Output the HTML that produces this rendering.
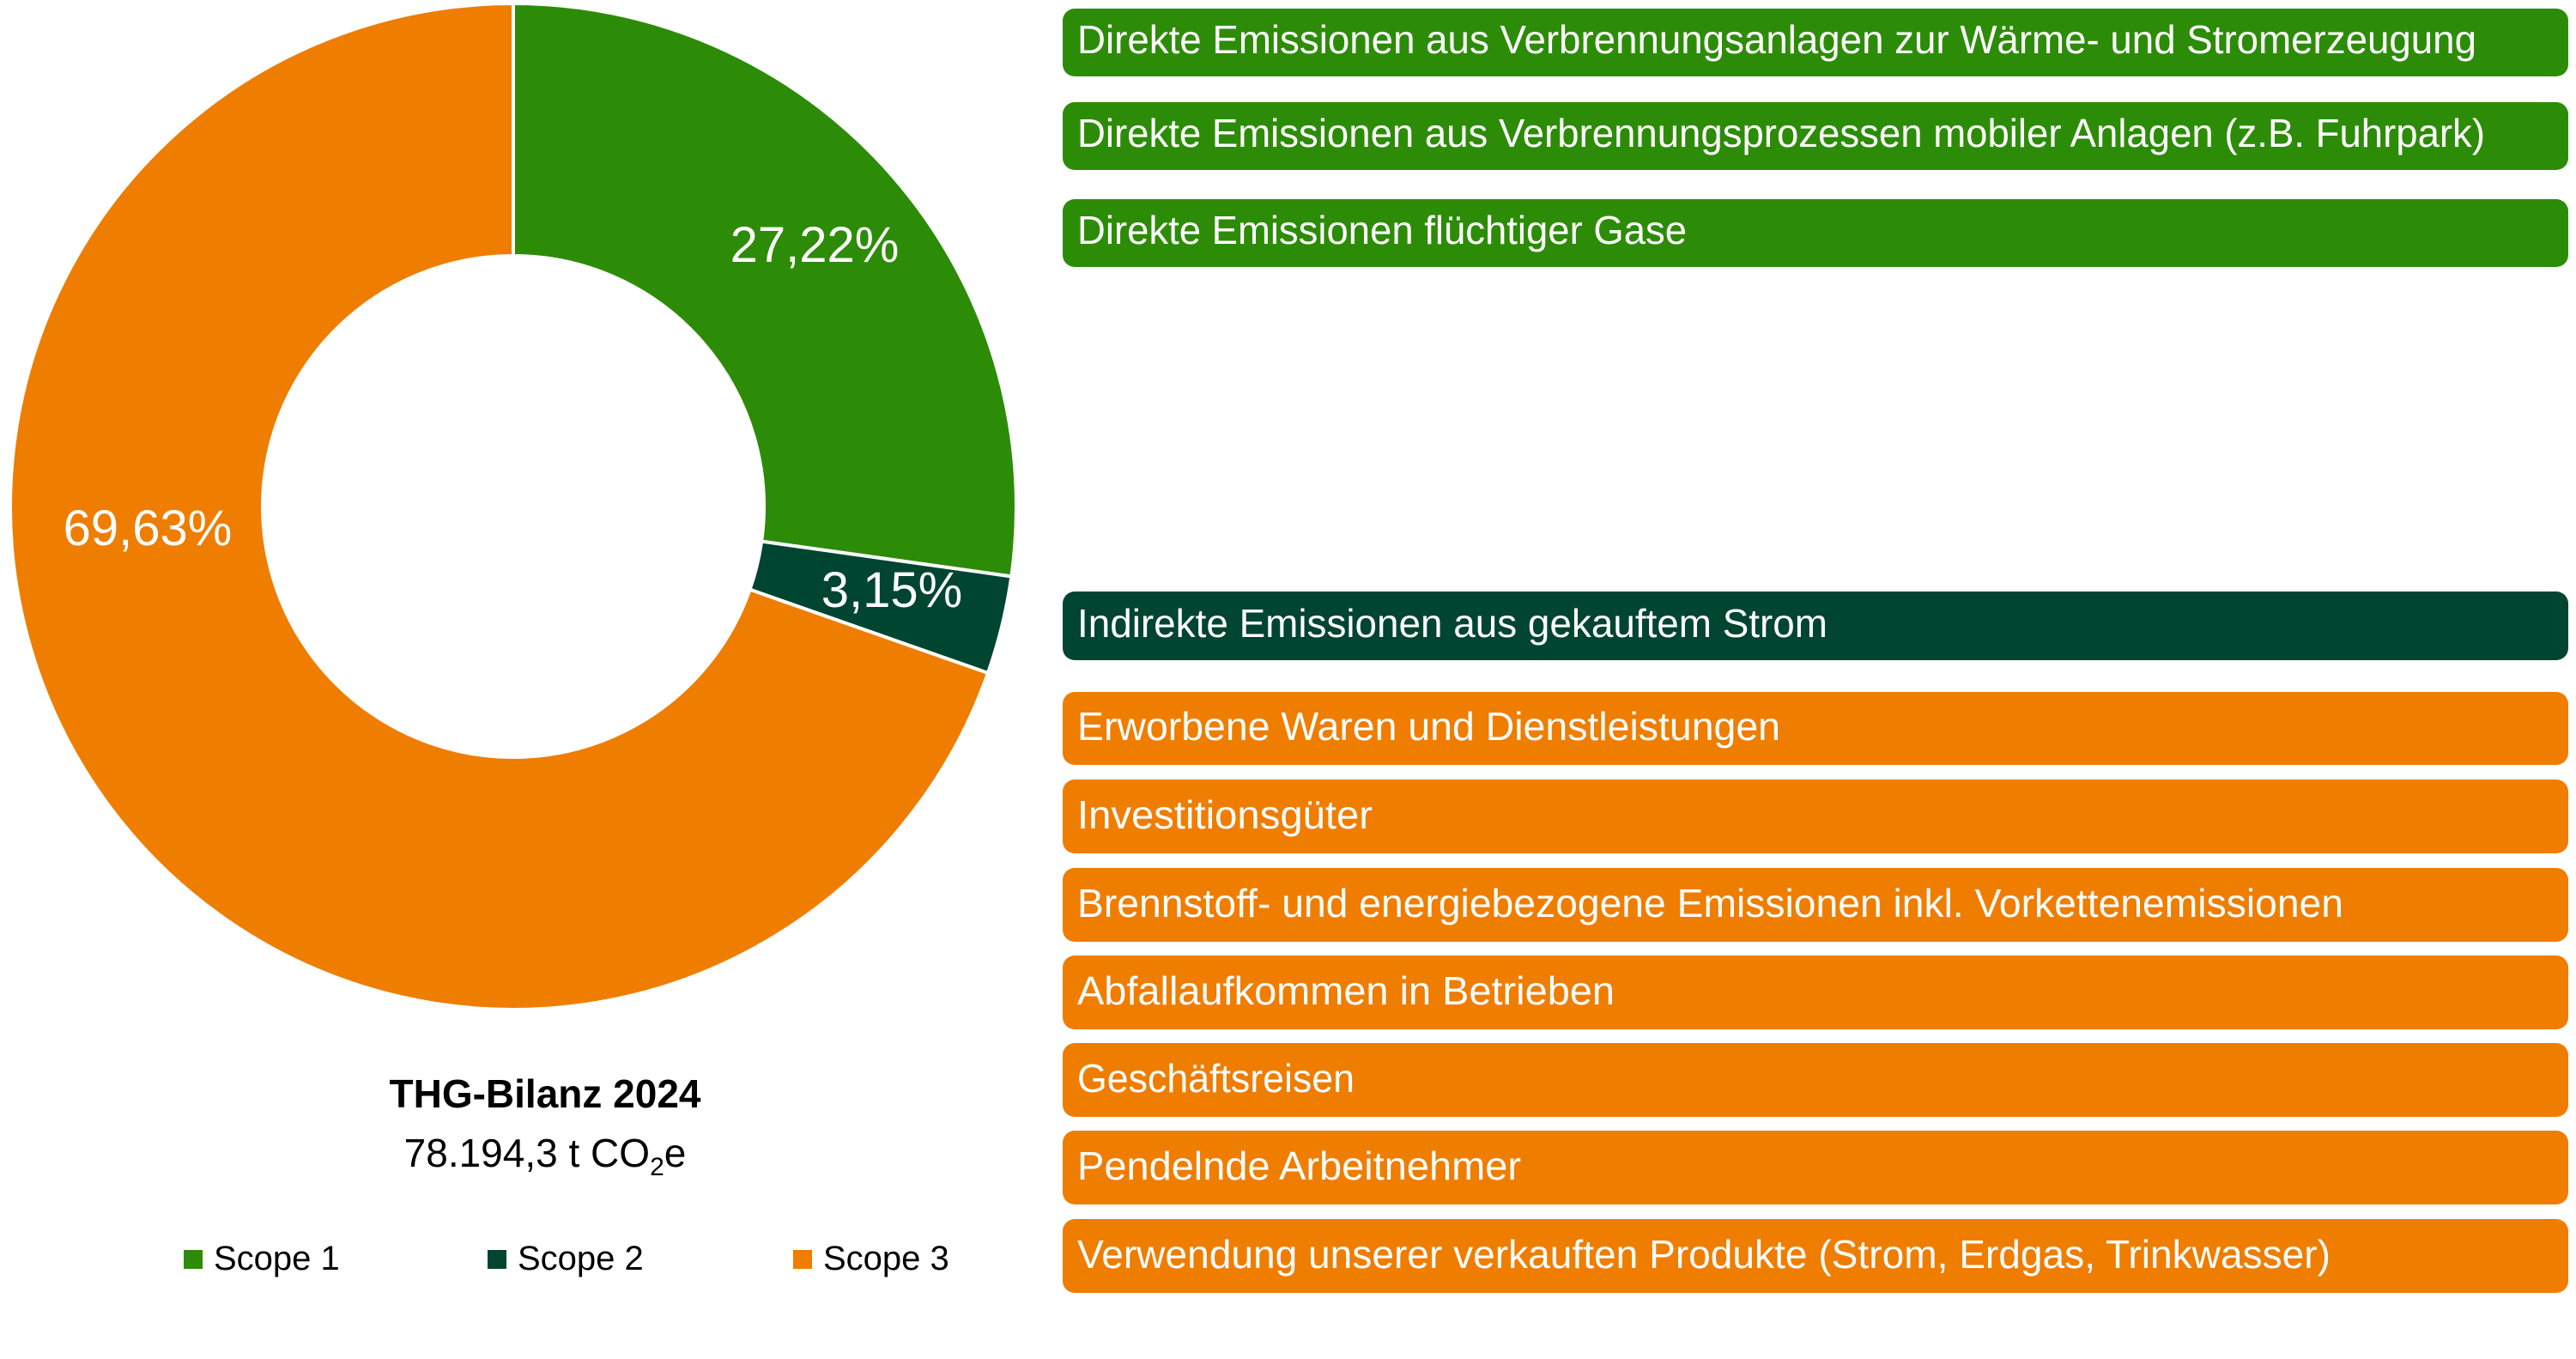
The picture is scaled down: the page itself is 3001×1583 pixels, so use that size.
<!DOCTYPE html>
<html><head><meta charset="utf-8"><style>
html,body{margin:0;padding:0;background:#fff;width:3001px;height:1583px;overflow:hidden}
svg{display:block;font-family:"Liberation Sans",sans-serif}
</style></head><body>
<svg id="chart" width="3001" height="1583" viewBox="0 0 3001 1583" xmlns="http://www.w3.org/2000/svg"></svg>
<script>
const scopes = ["Scope 1","Scope 2","Scope 3"];
const shares = [27.22, 3.15, 69.63];
const shareLabels = ["27,22%","3,15%","69,63%"];
const scopeColors = ["#2d8c07","#004530","#ef7d00"];
const boxTexts = [
 "Direkte Emissionen aus Verbrennungsanlagen zur Wärme- und Stromerzeugung",
 "Direkte Emissionen aus Verbrennungsprozessen mobiler Anlagen (z.B. Fuhrpark)",
 "Direkte Emissionen flüchtiger Gase",
 "Indirekte Emissionen aus gekauftem Strom",
 "Erworbene Waren und Dienstleistungen",
 "Investitionsgüter",
 "Brennstoff- und energiebezogene Emissionen inkl. Vorkettenemissionen",
 "Abfallaufkommen in Betrieben",
 "Geschäftsreisen",
 "Pendelnde Arbeitnehmer",
 "Verwendung unserer verkauften Produkte (Strom, Erdgas, Trinkwasser)"
];
const boxScope = [0,0,0,1,2,2,2,2,2,2,2];
const boxTops = [10,119,232,689,806,908,1011,1113,1215,1317,1420];
const boxHeights = [79,79,79,80,85,86,86,86,86,86,86];
const boxTextWidths = [1630,1640,710,874,819,344,1475,626,323,517,1460];

const NS="http://www.w3.org/2000/svg";
const svg=document.getElementById('chart');
function mk(tag,attrs,parent){const e=document.createElementNS(NS,tag);for(const k in attrs)e.setAttribute(k,attrs[k]);(parent||svg).appendChild(e);return e;}

const cx=598, cy=590, R=586, r=292;
const total=shares.reduce((a,b)=>a+b,0);
function pt(rad,frac){const a=frac*2*Math.PI-Math.PI/2;return [cx+rad*Math.cos(a),cy+rad*Math.sin(a)];}
let acc=0;
shares.forEach((v,i)=>{
  const f0=acc/total, f1=(acc+v)/total; acc+=v;
  const large=(f1-f0)>0.5?1:0;
  const [x0,y0]=pt(R,f0),[x1,y1]=pt(R,f1),[x2,y2]=pt(r,f1),[x3,y3]=pt(r,f0);
  const p=mk('path',{d:`M${x0},${y0}A${R},${R} 0 ${large} 1 ${x1},${y1}L${x2},${y2}A${r},${r} 0 ${large} 0 ${x3},${y3}Z`,fill:scopeColors[i],stroke:'#fff','stroke-width':4});
  
  
});
const labelPos=[[949,305],[1039,707],[172,635]];
shareLabels.forEach((t,i)=>{
  const e=mk('text',{x:labelPos[i][0],y:labelPos[i][1],'text-anchor':'middle','font-size':58,fill:'#fff'});
  e.textContent=t;
  
  
});
let t=mk('text',{x:635,y:1290,'text-anchor':'middle','font-size':46,'font-weight':'bold',fill:'#000'});
t.textContent="THG-Bilanz 2024";


t=mk('text',{x:635,y:1359,'text-anchor':'middle','font-size':46,fill:'#000'});
t.innerHTML='78.194,3 t CO<tspan font-size="30" dy="10">2</tspan><tspan dy="-10">e</tspan>';


const legX=[214,568,924];
scopes.forEach((s,i)=>{
  const g=mk('g',{});
  
  
  mk('rect',{x:legX[i],y:1456,width:22,height:22,fill:scopeColors[i]},g);
  const tx=mk('text',{x:legX[i]+35,y:1479,'font-size':40,fill:'#000'},g);
  tx.textContent=s;
});
boxTexts.forEach((s,i)=>{
  const g=mk('g',{});
  
  
  mk('rect',{x:1238,y:boxTops[i],width:1754,height:boxHeights[i],rx:14,fill:scopeColors[boxScope[i]]},g);
  const tx=mk('text',{x:1255,y:boxTops[i]+boxHeights[i]*0.66,'font-size':46,fill:'#fff',textLength:boxTextWidths[i],lengthAdjust:'spacingAndGlyphs'},g);
  tx.textContent=s;
});
</script>
</body></html>
